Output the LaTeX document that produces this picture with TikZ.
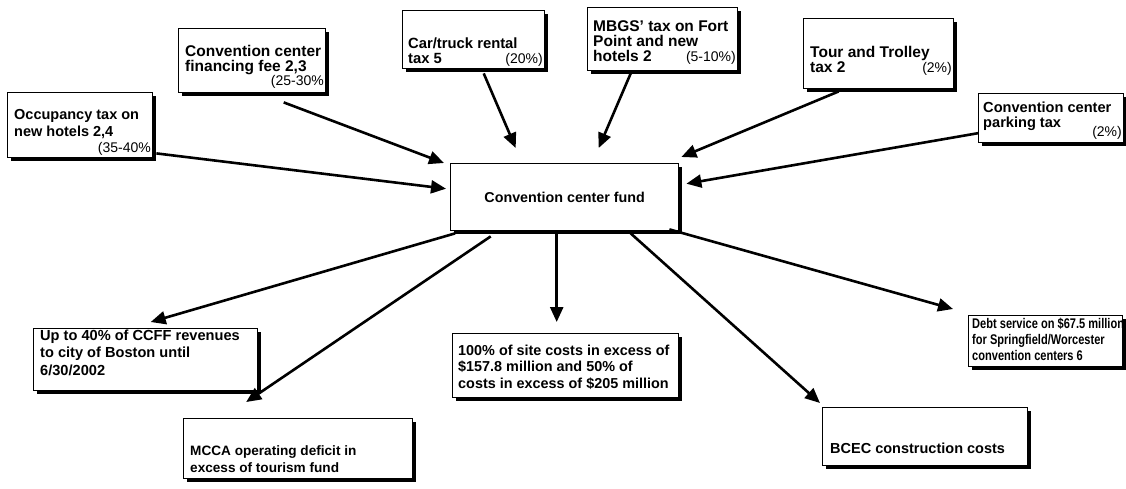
\documentclass[tikz,border=0pt]{standalone}
\usepackage{fontspec}
\setmainfont{Liberation Sans}
\newfontfamily\narrowfont{Liberation Sans}[FakeStretch=0.79]
\usetikzlibrary{arrows.meta,shadows}
\begin{document}
\begin{tikzpicture}[x=1pt,y=-1pt,
  box/.style={draw=black, line width=1.4pt, fill=white, inner sep=0pt, anchor=north west,
    drop shadow={shadow xshift=3.5pt, shadow yshift=-3.5pt, opacity=1, fill=black}},
  lbl/.style={inner sep=0pt, anchor=base west, align=left},
  pct/.style={inner sep=0pt, anchor=base east, font=\fontsize{14}{16}\selectfont},
  arr/.style={line width=2.6pt, -{Triangle[length=15pt,width=13pt]}}]
\useasboundingbox[fill=white] (0,0) rectangle (1126,489);

% source boxes (text nodes anchored at the baseline of their last line)
\node[box, minimum width=145pt, minimum height=65pt] (occ) at (7,92) {};
\node[lbl, font=\fontsize{14.5}{17}\selectfont\bfseries] (occt) at (14,137) {Occupancy tax on\\new hotels 2,4};
\node[pct] (occp) at (151,153) {(35-40\%};

\node[box, minimum width=147pt, minimum height=64pt] (fin) at (178,28) {};
\node[lbl, font=\fontsize{15.5}{15.5}\selectfont\bfseries] (fint) at (185,72) {Convention center\\financing fee 2,3};
\node[pct] (finp) at (324,86) {(25-30\%};

\node[box, minimum width=142pt, minimum height=58pt] (car) at (402,10) {};
\node[lbl, font=\fontsize{14.8}{15}\selectfont\bfseries] (cart) at (408,64) {Car/truck rental\\tax 5};
\node[pct] (carp) at (543,64) {(20\%)};

\node[box, minimum width=150pt, minimum height=63pt] (mbgs) at (587,7) {};
\node[lbl, font=\fontsize{15.5}{15}\selectfont\bfseries] (mbgst) at (593,62) {MBGS' tax on Fort\\Point and new\\hotels 2};
\node[pct] (mbgsp) at (736,62) {(5-10\%)};

\node[box, minimum width=150pt, minimum height=70pt] (tour) at (803,18) {};
\node[lbl, font=\fontsize{15.5}{15}\selectfont\bfseries] (tourt) at (810,73) {Tour and Trolley\\tax 2};
\node[pct] (tourp) at (952,73) {(2\%)};

\node[box, minimum width=145pt, minimum height=49pt] (park) at (978,93) {};
\node[lbl, font=\fontsize{14.6}{15}\selectfont\bfseries] (parkt) at (983,128) {Convention center\\parking tax};
\node[pct] (parkp) at (1122,137) {(2\%)};

% central fund
\node[box, minimum width=228pt, minimum height=67pt, font=\fontsize{14.3}{16}\selectfont\bfseries] (fund) at (450,163) {Convention center fund};

% destination boxes
\node[box, minimum width=224pt, minimum height=62pt] (up) at (33,328) {};
\node[lbl, font=\fontsize{14.6}{17.5}\selectfont\bfseries] (upt) at (40,375) {Up to 40\% of CCFF revenues\\to city of Boston until\\6/30/2002};

\node[box, minimum width=226pt, minimum height=64pt] (site) at (452,333) {};
\node[lbl, font=\fontsize{14.4}{16.5}\selectfont\bfseries] (sitet) at (458,388) {100\% of site costs in excess of\\\$157.8 million and 50\% of\\costs in excess of \$205 million};

\node[box, minimum width=154pt, minimum height=51pt] (debt) at (968,315) {};
\node[lbl, font=\fontsize{14}{16}\narrowfont\bfseries] (debtt) at (972,360) {Debt service on \$67.5 million\\for Springfield/Worcester\\convention centers 6};

\node[box, minimum width=229pt, minimum height=60pt] (mcca) at (183,418) {};
\node[lbl, font=\fontsize{13.6}{17}\selectfont\bfseries] (mccat) at (190,472) {MCCA operating deficit in\\excess of tourism fund};

\node[box, minimum width=205pt, minimum height=58pt] (bcec) at (822,407) {};
\node[lbl, font=\fontsize{14.5}{17}\selectfont\bfseries] (bcect) at (830,453) {BCEC construction costs};

% incoming arrows
\draw[arr] ([shift={(3,-5)}]occ.south east) -- ([shift={(-4,-8.5)}]fund.west);
\draw[arr] ([shift={(31.5,9)}]fin.south) -- ([shift={(-6,0)}]fund.north west);
\draw[arr] ([shift={(10,4)}]car.south) -- ([shift={(-49,-15)}]fund.north);
\draw[arr] ([shift={(-32,2)}]mbgs.south) -- ([shift={(34,-15)}]fund.north);
\draw[arr] ([shift={(-40,2)}]tour.south) -- ([shift={(2,-6)}]fund.north east);
\draw[arr] ([shift={(0,15)}]park.west) -- ([shift={(7,-13.5)}]fund.east);

% outgoing arrows
\draw[arr] ([shift={(5,2)}]fund.south west) -- ([shift={(5,-6)}]up.north);
\draw[arr] ([shift={(-74,5)}]fund.south) -- ([shift={(-52,-16)}]mcca.north);
\draw[arr] ([shift={(-8,2)}]fund.south) -- ([shift={(-9,-11)}]site.north);
\draw[arr] ([shift={(66,2)}]fund.south) -- ([shift={(-2,-4)}]bcec.north west);
\draw[arr] ([shift={(-10,-2)}]fund.south east) -- ([shift={(-15,-6)}]debt.north west);
\end{tikzpicture}
\end{document}
